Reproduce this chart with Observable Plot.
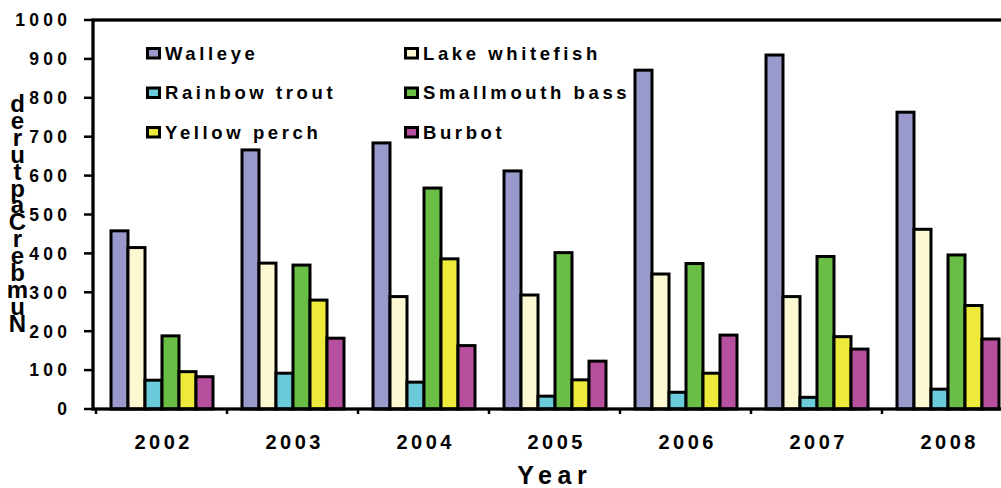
<!DOCTYPE html>
<html><head><meta charset="utf-8">
<script src="https://cdn.jsdelivr.net/npm/d3@7"></script>
<script src="https://cdn.jsdelivr.net/npm/@observablehq/plot@0.6"></script>
<style>
body{margin:0;background:#fff}
#chart svg{display:block}
</style>
</head><body><div id="chart"></div>
<script>
const years = ["2002","2003","2004","2005","2006","2007","2008"];
const species = ["Walleye","Lake whitefish","Rainbow trout","Smallmouth bass","Yellow perch","Burbot"];
const colors = ["#9999cc","#fcf9d2","#6ccbda","#6abd45","#eeea3c","#b6509e"];
const walleye        = [458,666,684,612,871,910,763];
const lakeWhitefish  = [415,375,289,293,347,289,462];
const rainbowTrout   = [74,92,69,33,43,30,51];
const smallmouthBass = [188,370,568,402,374,392,396];
const yellowPerch    = [96,280,386,75,92,186,266];
const burbot         = [83,182,163,123,190,154,180];
const yTicks = [0,100,200,300,400,500,600,700,800,900,1000];
const yLabel = "Number Captured";
const xLabel = "Year";
const legendOrder = ["Walleye","Lake whitefish","Rainbow trout","Smallmouth bass","Yellow perch","Burbot"];

const series = [walleye, lakeWhitefish, rainbowTrout, smallmouthBass, yellowPerch, burbot];
const data = [];
years.forEach((yr, i) => species.forEach((sp, j) => data.push({year: yr, species: sp, value: series[j][i]})));

const FONT = "'Liberation Sans', Arial, Helvetica, sans-serif";

const plot = Plot.plot({
  width: 1001, height: 488,
  marginLeft: 94, marginRight: -13, marginTop: 20, marginBottom: 79,
  style: {fontFamily: FONT, fontWeight: "bold", background: "white", overflow: "hidden", color: "black"},
  fx: {domain: years, paddingInner: 0.2, paddingOuter: 0.1, label: null, axis: null},
  x: {domain: species, padding: 0, axis: null},
  y: {domain: [0, 1000], label: null, axis: null},
  color: {domain: species, range: colors},
  marks: [
    Plot.barY(data, {fx: "year", x: "species", y: "value", fill: "species", stroke: "black", strokeWidth: 3, inset: 0}),
    Plot.axisFx({anchor: "bottom", tickSize: 0, tickPadding: 25, fontSize: 20, fontWeight: "bold", label: null})
  ]
});

const svg = d3.select(plot);
const fx = plot.scale("fx");
const y = plot.scale("y");
const color = plot.scale("color");
const x0 = fx.range[0], x1 = fx.range[1];
const yTop = y.apply(1000), yBot = y.apply(0);

// y axis ticks and labels from the y scale
const ya = svg.append("g");
ya.selectAll("line").data(yTicks).join("line")
  .attr("x1", x0 - 10).attr("x2", x0).attr("y1", d => y.apply(d)).attr("y2", d => y.apply(d))
  .attr("stroke", "black").attr("stroke-width", 2.5);
ya.append("g").attr("font-family", FONT).attr("font-weight", "bold").attr("font-size", 17.5)
  .attr("text-anchor", "end").style("letter-spacing", "4.3px")
  .selectAll("text").data(yTicks).join("text")
  .attr("x", 71.3).attr("y", d => y.apply(d)).attr("dy", "0.36em").text(d => String(d));

svg.selectAll('[aria-label="fx-axis tick label"] text').style("letter-spacing", "3.5px").attr("dx", 1.75);

// frame
svg.append("rect").attr("x", x0 - 1).attr("y", yTop).attr("width", x1 - x0 + 1).attr("height", yBot - yTop)
  .attr("fill", "none").attr("stroke", "black").attr("stroke-width", 3.3);

// group boundary ticks
const half = (fx.step - fx.bandwidth) / 2;
const bounds = years.map(yv => fx.apply(yv) - half);
bounds.push(fx.apply(years[years.length - 1]) + fx.bandwidth + half);
svg.append("g").selectAll("line").data(bounds).join("line")
  .attr("x1", d => d).attr("x2", d => d).attr("y1", yBot).attr("y2", yBot + 5)
  .attr("stroke", "black").attr("stroke-width", 2.5);

// legend
const lg = svg.append("g").attr("font-family", FONT).attr("font-weight", "bold").attr("font-size", 18.5).attr("text-anchor", "start");
legendOrder.forEach((sp, i) => {
  const col = i % 2, row = Math.floor(i / 2);
  const lx = 147.5 + col * 258, ly = 48.5 + row * 39.5;
  lg.append("rect").attr("x", lx).attr("y", ly).attr("width", 12).attr("height", 9.5)
    .attr("fill", color.apply(sp)).attr("stroke", "black").attr("stroke-width", 3);
  lg.append("text").attr("x", lx + 17.5).attr("y", ly + 11).attr("text-anchor", "start").style("letter-spacing", "3.6px").text(sp);
});

// x label
svg.append("text").attr("x", 552).attr("y", 484).attr("text-anchor", "middle")
  .attr("font-family", FONT).attr("font-weight", "bold").attr("font-size", 25)
  .style("letter-spacing", "5.5px").attr("dx", 2.75).text(xLabel);

// y label (stacked letters)
const letters = yLabel.split("").filter(c => c !== " ").reverse();
const yl = svg.append("text").attr("font-family", FONT).attr("font-weight", "bold").attr("font-size", 24).attr("text-anchor", "middle");
letters.forEach((c, i) => {
  yl.append("tspan").attr("x", 17.5).attr("y", 112 + i * 16.9).text(c);
});

document.getElementById("chart").appendChild(plot);
</script>
</body></html>
